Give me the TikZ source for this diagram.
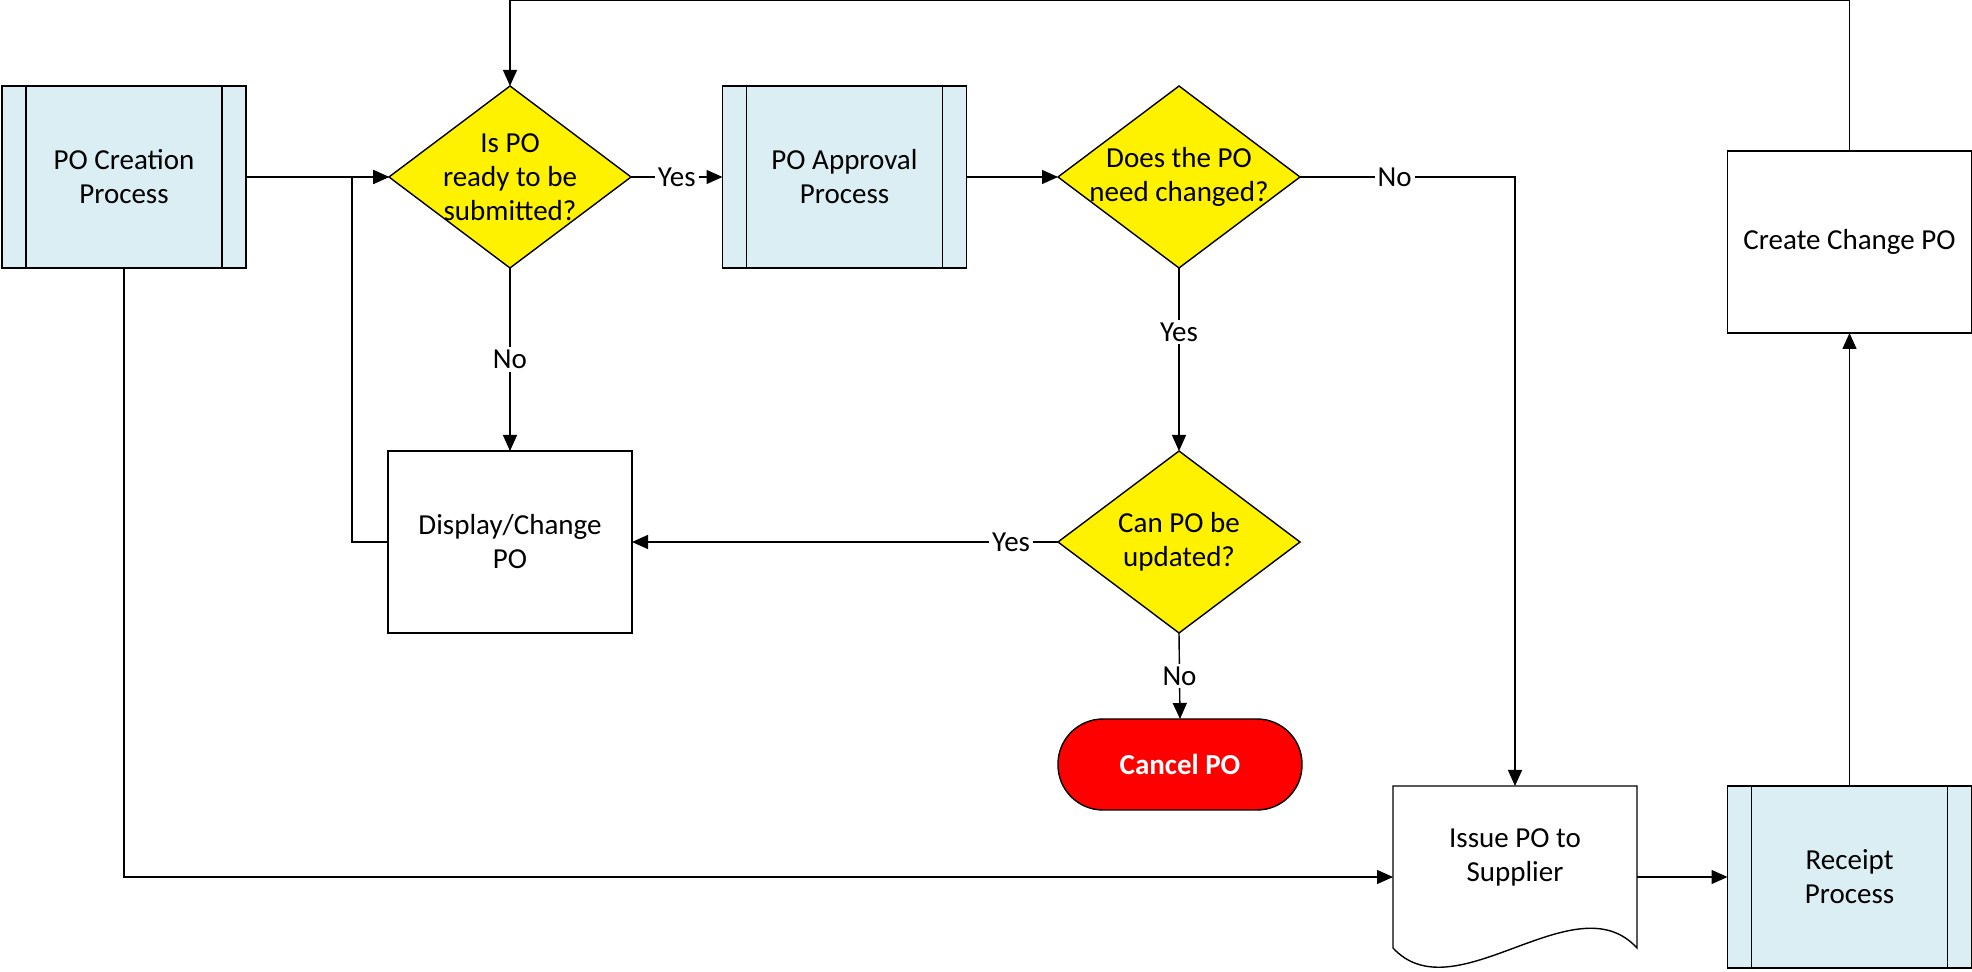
\documentclass[tikz,border=0pt]{standalone}
\usepackage{fontspec}
\setmainfont{Carlito}
\usetikzlibrary{arrows.meta,backgrounds}
\definecolor{procblue}{RGB}{218,238,243}
\begin{document}
\begin{tikzpicture}[x=0.5pt,y=-0.5pt,
  every node/.style={font=\fontsize{14.5pt}{17pt}\selectfont, align=center, inner sep=0pt, outer sep=0pt},
  ln/.style={line width=0.7pt, draw=black},
  arr/.style={ln, -{Triangle[length=8pt,width=7pt]}},
  procbox/.style={ln, fill=procblue, minimum width=122pt, minimum height=91pt},
  plainbox/.style={ln, fill=white, minimum width=122pt, minimum height=91pt},
  decbox/.style={minimum width=121pt, minimum height=91pt},
  cancelbox/.style={ln, fill=red, text=white, rounded corners=22.5pt, minimum width=122pt, minimum height=45.5pt},
  lbl/.style={fill=white, inner sep=1.5pt}]
\useasboundingbox (0,0) rectangle (1972,972);
\coordinate (topy) at (0,0);

\node[procbox] (creation) at (124,177) {PO Creation\\Process};
\node[decbox] (d1) at (510,177) {Is PO\\ready to be\\submitted?};
\node[procbox] (approval) at (844.5,177) {PO Approval\\Process};
\node[decbox] (d2) at (1179,177) {Does the PO\\need changed?};
\node[plainbox] (change) at (1849.5,242) {Create Change PO};
\node[plainbox] (display) at (510,542) {Display/Change\\PO};
\node[decbox] (d3) at (1179,542) {Can PO be\\updated?};
\node[cancelbox] (cancel) at (1180,764.5) {\textbf{Cancel PO}};
\node[minimum width=122pt, minimum height=91pt] (issue) at (1515,877) {};
\node[procbox] (receipt) at (1849.5,877) {Receipt\\Process};

\begin{scope}[on background layer]
\foreach \d in {d1,d2,d3}
  \draw[ln, fill=yellow] (\d.north) -- (\d.east) -- (\d.south) -- (\d.west) -- cycle;
\end{scope}

\foreach \b in {creation,approval,receipt} {
  \draw[ln] ([xshift=12pt]\b.north west) -- ([xshift=12pt]\b.south west);
  \draw[ln] ([xshift=-12pt]\b.north east) -- ([xshift=-12pt]\b.south east);
}

\draw[ln] ([yshift=10pt]issue.south west) -- (issue.north west) -- (issue.north east) -- ([yshift=10pt]issue.south east)
  .. controls ([xshift=-31pt,yshift=44pt]issue.south east) and ([xshift=31pt,yshift=-23.5pt]issue.south west) .. ([yshift=10pt]issue.south west) -- cycle;
\node (issuetext) at (1515,857) {Issue PO to\\Supplier};

\draw[arr] (creation.east) -- (d1.west);
\draw[arr] (creation.south) |- (issue.west);
\draw[arr] (d1.east) -- node[lbl]{Yes} (approval.west);
\draw[arr] (approval.east) -- (d2.west);
\draw[arr] (d2.east) -| node[lbl,pos=0.22]{No} (issue.north);
\draw[arr] (d2.south) -- node[lbl,pos=0.35]{Yes} (d3.north);
\draw[arr] (d1.south) -- node[lbl]{No} (display.north);
\draw[arr] (d3.west) -- node[lbl,pos=0.11]{Yes} (display.east);
\draw[arr] (d3.south) -- node[lbl]{No} (cancel.north);
\draw[arr] (display.west) -- ++(-36,0) |- (d1.west);
\draw[arr] (issue.east) -- (receipt.west);
\draw[arr] (receipt.north) -- (change.south);
\draw[arr] (change.north) -- (change.north |- topy) -| (d1.north);
\end{tikzpicture}
\end{document}
